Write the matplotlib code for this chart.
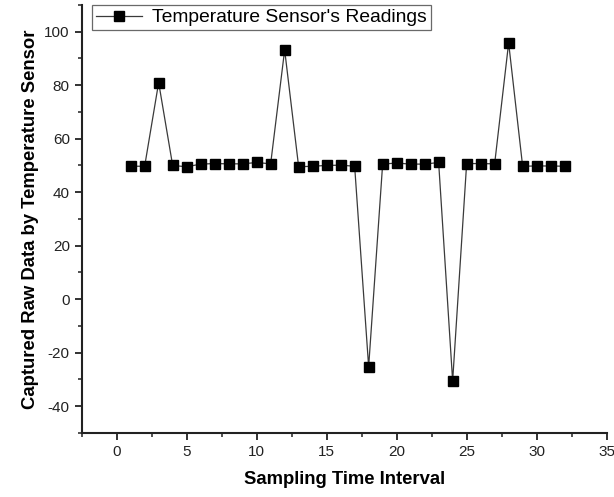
"""Temperature sensor raw readings over sampling intervals."""

import matplotlib
matplotlib.use("Agg")
import matplotlib.pyplot as plt
from matplotlib.ticker import MultipleLocator

plt.rcParams["font.family"] = ["Liberation Sans", "DejaVu Sans"]
plt.rcParams["axes.unicode_minus"] = False

# ── Data ──────────────────────────────────────────────────────
sample_idx = list(range(1, 33))
readings = [
    49.7, 49.7, 81.0, 50.0, 49.5, 50.5, 50.7, 50.6, 50.6, 51.1,
    50.6, 93.2, 49.5, 49.7, 50.0, 50.1, 49.7, -25.3, 50.5, 50.9,
    50.5, 50.5, 51.1, -30.6, 50.7, 50.7, 50.6, 95.8, 49.7, 49.8,
    49.8, 49.7,
]
series_label = "Temperature Sensor's Readings"
x_title = "Sampling Time Interval"
y_title = "Captured Raw Data by Temperature Sensor"

# ── Figure ────────────────────────────────────────────────────
fig = plt.figure(figsize=(6.14, 4.97), dpi=100)
ax = fig.add_axes([0.133, 0.129, 0.855, 0.861])

ax.plot(sample_idx, readings, color="#3a3a3a", lw=0.9,
        marker="s", markersize=7.5, markerfacecolor="black",
        markeredgecolor="black", label=series_label)

ax.set_xlim(-2.5, 35)
ax.set_ylim(-50, 110)
ax.xaxis.set_major_locator(MultipleLocator(5))
ax.xaxis.set_minor_locator(MultipleLocator(2.5))
ax.yaxis.set_major_locator(MultipleLocator(20))
ax.yaxis.set_minor_locator(MultipleLocator(10))

for side in ("top", "right"):
    ax.spines[side].set_visible(False)
for side in ("left", "bottom"):
    ax.spines[side].set_linewidth(1.5)
    ax.spines[side].set_color("#222222")

ax.tick_params(which="major", direction="out", length=5, width=1.3,
               labelsize=11, color="#222222", labelcolor="#222222")
ax.tick_params(which="minor", direction="out", length=3, width=1.1,
               color="#222222")

ax.set_xlabel(x_title, fontsize=13.3, fontweight="bold", labelpad=9)
ax.set_ylabel(y_title, fontsize=13.3, fontweight="bold", labelpad=4)

leg = ax.legend(loc="upper left", bbox_to_anchor=(0.02, 1.0), borderaxespad=0,
                fontsize=13.9, frameon=True, fancybox=False, handlelength=2.4,
                borderpad=0.2, handletextpad=0.5)
leg.get_frame().set_edgecolor("#444444")
leg.get_frame().set_linewidth(0.9)

plt.savefig("out.png", dpi=100)
plt.close()
